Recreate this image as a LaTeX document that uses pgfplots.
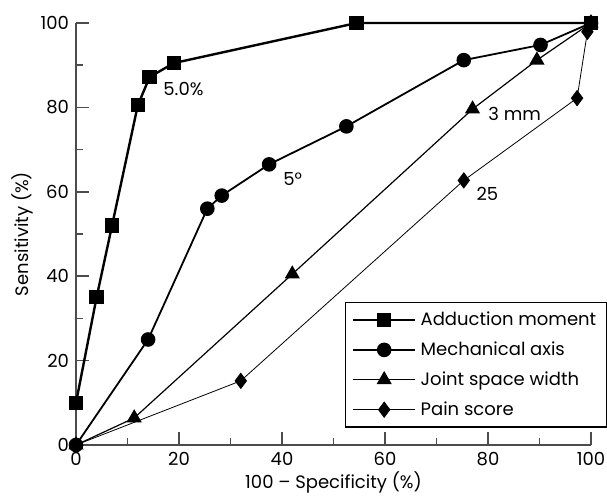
\documentclass[border=0pt]{standalone}
\usepackage{fontspec}
\setmainfont{Poppins}
\usepackage{pgfplots}
\pgfplotsset{compat=1.18}
\begin{document}
\begin{tikzpicture}
\useasboundingbox (-38pt,-26.5pt) rectangle (265.5pt,222.5pt);
\begin{axis}[
  at={(0,0)}, anchor=south west,
  scale only axis, width=257.5pt, height=211pt,
  xmin=0, xmax=100, ymin=0, ymax=100,
  axis x line*=bottom, axis y line*=left,
  axis line style={-, gray!60!black, line width=0.8pt},
  every tick/.style={gray!60!black, line width=0.8pt},
  tick align=inside,
  major tick length=6.5pt, minor tick length=3.5pt,
  xtick={0,20,...,100}, ytick={0,20,...,100},
  minor tick num=1,
  /pgf/number format/assume math mode=true,
  tick label style={font=\fontsize{9}{11}\selectfont},
  label style={font=\fontsize{9}{11}\selectfont},
  xlabel={100 – Specificity (\%)},
  ylabel={Sensitivity (\%)},
  xlabel style={yshift=4pt},
  ylabel style={yshift=-3pt},
  clip=false,
  legend style={at={(1.031,0.339)}, anchor=north east, draw=black, line width=0.7pt,
    font=\fontsize{9}{11}\selectfont, legend cell align=left, row sep=2.6pt,
    inner ysep=2.5pt, inner xsep=3pt},
  legend image code/.code={\draw[mark repeat=2,mark phase=2,#1] plot coordinates {(0cm,0cm)(0.55cm,0cm)(1.1cm,0cm)};},
]
\addplot[black, line width=1.2pt, mark=square*, mark size=3pt, mark options={solid}] coordinates {
 (0,10) (4,35) (7,52) (12,80.5) (14.3,87.2) (19,90.5) (54.5,100) (100,100)};
\addlegendentry{Adduction moment}
\addplot[black, line width=0.9pt, mark=*, mark size=3.2pt] coordinates {
 (0,0) (14,25) (25.5,56) (28.3,59.1) (37.5,66.5) (52.5,75.5) (75.3,91.2) (90.2,94.8) (100,100)};
\addlegendentry{Mechanical axis}
\addplot[black, line width=0.6pt, mark=triangle*, mark size=3.8pt] coordinates {
 (0,0) (11.3,6.4) (42,40.5) (77,79.6) (89.5,91.2) (100,100)};
\addlegendentry{Joint space width}
\addplot[black, line width=0.4pt, mark=diamond*, mark size=3.8pt] coordinates {
 (0,0) (32,15.2) (75.3,62.7) (97.3,82.2) (99.3,97.9) (100,100)};
\addlegendentry{Pain score}
\node[anchor=west, inner sep=0pt, font=\fontsize{9}{11}\selectfont] at (axis cs:16.9,84.3) {5.0\%};
\node[anchor=west, inner sep=0pt, font=\fontsize{9}{11}\selectfont] at (axis cs:40.2,63) {5°};
\node[anchor=west, inner sep=0pt, font=\fontsize{9}{11}\selectfont] at (axis cs:80,78.4) {3 mm};
\node[anchor=west, inner sep=0pt, font=\fontsize{9}{11}\selectfont] at (axis cs:77.7,59.4) {25};
\end{axis}
\end{tikzpicture}
\end{document}
